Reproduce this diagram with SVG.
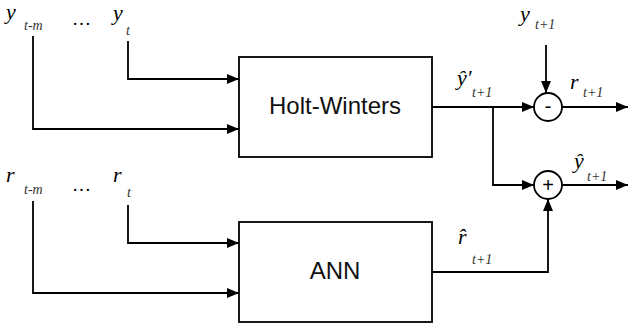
<svg xmlns="http://www.w3.org/2000/svg" width="628" height="327" viewBox="0 0 628 327">
<defs>
<marker id="ah" viewBox="0 0 12 10" refX="12" refY="5" markerWidth="12" markerHeight="10" markerUnits="userSpaceOnUse" orient="auto">
<path d="M0,0 L12,5 L0,10 Z" fill="#000"/>
</marker>
</defs>
<style>
.ln{fill:none;stroke:#000;stroke-width:1.8}
.box{fill:#fff;stroke:#000;stroke-width:1.8}
.lbl{font-family:"Liberation Sans",Arial,sans-serif;font-size:24px;fill:#111;text-anchor:middle}
.v{font-family:"Liberation Serif","Times New Roman",serif;font-style:italic;font-size:22px;fill:#000}
.s{font-family:"Liberation Serif","Times New Roman",serif;font-style:italic;font-size:14px;fill:#333}
.d{font-family:"Liberation Serif","Times New Roman",serif;font-size:19px;fill:#000}
.op{font-family:"Liberation Sans",Arial,sans-serif;font-size:20px;fill:#000;text-anchor:middle}
</style>
<g id="connectors">
<path class="ln" d="M128,41 V79 H239" marker-end="url(#ah)"/>
<path class="ln" d="M33,36 V129 H239" marker-end="url(#ah)"/>
<path class="ln" d="M128,205 V243 H239" marker-end="url(#ah)"/>
<path class="ln" d="M33,201 V293 H239" marker-end="url(#ah)"/>
<path class="ln" d="M432,107 H534" marker-end="url(#ah)"/>
<path class="ln" d="M493,107 V185 H534" marker-end="url(#ah)"/>
<path class="ln" d="M546,45 V93" marker-end="url(#ah)"/>
<path class="ln" d="M432,272 H548 V199" marker-end="url(#ah)"/>
<path class="ln" d="M562,107 H628" marker-end="url(#ah)"/>
<path class="ln" d="M562,185 H628" marker-end="url(#ah)"/>
</g>
<g id="holt-winters">
<rect class="box" x="239" y="57" width="193" height="100"/>
<text class="lbl" x="335" y="114">Holt-Winters</text>
</g>
<g id="ann">
<rect class="box" x="239" y="222" width="193" height="100"/>
<text class="lbl" x="335" y="279">ANN</text>
</g>
<g id="minus">
<circle class="ln" cx="548" cy="107" r="14"/>
<text class="op" x="548" y="113">-</text>
</g>
<g id="plus">
<circle class="ln" cx="548" cy="185" r="14"/>
<text class="op" x="548" y="192">+</text>
</g>
<g id="labels">
<text class="v" x="6" y="19">y</text><text class="s" x="24" y="30">t-m</text>
<text class="d" x="72" y="25">…</text>
<text class="v" x="113" y="20">y</text><text class="s" x="126" y="35">t</text>
<text class="v" x="6" y="182">r</text><text class="s" x="24" y="194">t-m</text>
<text class="d" x="72" y="191">…</text>
<text class="v" x="113" y="182">r</text><text class="s" x="127" y="197">t</text>
<text class="v" x="457" y="85">ŷ′</text><text class="s" x="472" y="97">t+1</text>
<text class="v" x="520" y="21">y</text><text class="s" x="535" y="29">t+1</text>
<text class="v" x="570" y="89">r</text><text class="s" x="583" y="97">t+1</text>
<text class="v" x="574" y="168">ŷ</text><text class="s" x="587" y="181">t+1</text>
<text class="v" x="458" y="244">r̂</text><text class="s" x="472" y="264">t+1</text>
</g>
</svg>
